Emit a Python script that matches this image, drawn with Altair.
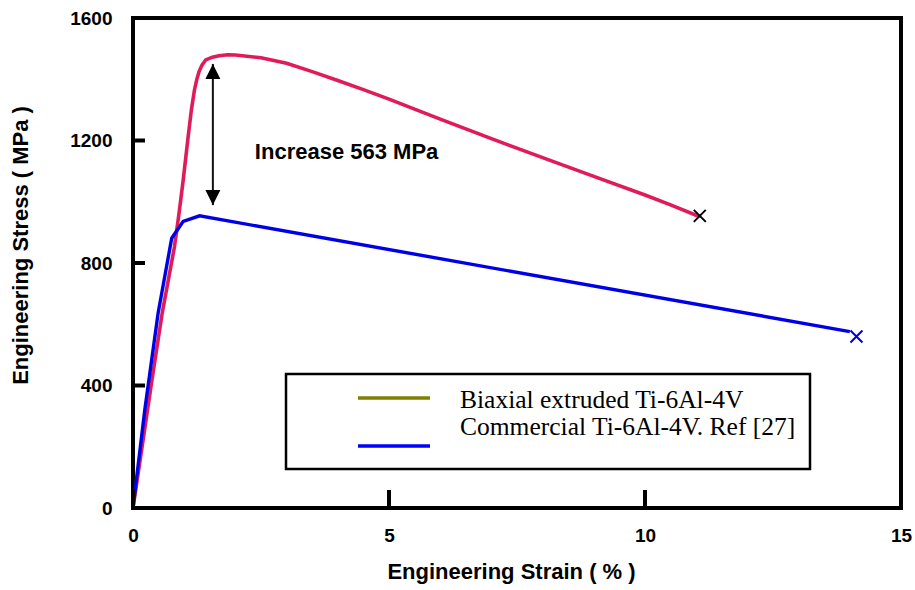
import altair as alt
import pandas as pd

# Biaxial extruded Ti-6Al-4V: engineering strain (%) and stress (MPa)
strain_biaxial = [0.0, 0.2, 0.37, 0.57, 0.81, 0.90, 0.98, 1.07, 1.14, 1.20, 1.25, 1.29, 1.35,
                  1.42, 1.55, 1.68, 1.85, 2.0, 2.5, 3.0, 3.5, 4.0, 4.5, 5.0, 6.0, 7.0, 8.0,
                  9.0, 10.0, 10.5, 11.07]
stress_biaxial = [0, 225, 418, 636, 853, 963, 1070, 1202, 1300, 1365, 1402, 1425, 1447,
                  1463, 1472, 1477, 1480, 1479, 1470, 1452, 1425, 1396, 1366, 1335, 1270,
                  1206, 1144, 1083, 1022, 990, 951]

# Commercial Ti-6Al-4V (Ref [27])
strain_commercial = [0.0, 0.23, 0.49, 0.756, 0.98, 1.30, 14.0]
stress_commercial = [0, 320, 636, 881, 936, 954, 576]

# fracture points
fracture_strain = [11.07, 14.13]
fracture_stress = [954, 560]
fracture_series = ["Biaxial", "Commercial"]

x_ticks = [0, 5, 10, 15]
y_ticks = [0, 400, 800, 1200, 1600]

# strength-increase annotation
arrow_strain = [1.56]
arrow_low = [989]
arrow_high = [1450]
note_strain = [2.38]
note_stress = [1138]
note_text = ["Increase 563 MPa"]

legend_labels = ["Biaxial extruded Ti-6Al-4V", "Commercial Ti-6Al-4V. Ref [27]"]
legend_colors = ["#808000", "#0000ff"]

RED = "#e01b5a"
BLUE = "#0000e6"
SANS = "Liberation Sans"
SERIF = "Liberation Serif"

biaxial = pd.DataFrame({"strain": strain_biaxial, "stress": stress_biaxial,
                        "i": range(len(strain_biaxial))})
commercial = pd.DataFrame({"strain": strain_commercial, "stress": stress_commercial,
                           "i": range(len(strain_commercial))})
fracture = pd.DataFrame({"strain": fracture_strain, "stress": fracture_stress,
                         "series": fracture_series})
arrow = pd.DataFrame({"strain": arrow_strain, "low": arrow_low, "high": arrow_high})
note = pd.DataFrame({"strain": note_strain, "stress": note_stress, "text": note_text})
xt = pd.DataFrame({"strain": x_ticks, "stress": [0] * len(x_ticks)})
yt = pd.DataFrame({"strain": [0] * len(y_ticks), "stress": y_ticks})

x_scale = alt.Scale(domain=[0, 15], nice=False, zero=False)
y_scale = alt.Scale(domain=[0, 1600], nice=False, zero=False)

x_axis = alt.Axis(values=x_ticks, format="d", title="Engineering Strain ( % )",
                  ticks=False, domain=False, grid=False, labelPadding=18, labelFlush=False,
                  titleX=378, titleY=70, titleAlign="center", titleBaseline="alphabetic")
y_axis = alt.Axis(values=y_ticks, format="d", title="Engineering Stress ( MPa )",
                  ticks=False, domain=False, grid=False, labelPadding=21, labelFlush=False,
                  titleAngle=270, titleX=-113, titleY=227, titleAlign="center",
                  titleBaseline="middle")

X = alt.X("strain:Q", scale=x_scale, axis=x_axis)
Y = alt.Y("stress:Q", scale=y_scale, axis=y_axis)
Xn = alt.X("strain:Q", scale=x_scale)
Yn = alt.Y("stress:Q", scale=y_scale)

line_bi = alt.Chart(biaxial).mark_line(color=RED, strokeWidth=3.6).encode(
    x=X, y=Y, order="i:Q")
line_com = alt.Chart(commercial).mark_line(color=BLUE, strokeWidth=3.4).encode(
    x=Xn, y=Yn, order="i:Q")

cross = "M-1,-1L1,1M1,-1L-1,1"
marks_x = alt.Chart(fracture).mark_point(shape=cross, filled=False, size=144,
                                         strokeWidth=2, opacity=1).encode(
    x=Xn, y=Yn,
    color=alt.Color("series:N", scale=alt.Scale(domain=fracture_series,
                                                range=["#000000", BLUE]), legend=None))

shaft = alt.Chart(arrow).mark_rule(color="#111111", strokeWidth=2).encode(
    x=Xn, y=alt.Y("low:Q", scale=y_scale), y2="high:Q")
head_up = alt.Chart(arrow).mark_point(shape="M0,0L-1,2L1,2Z", filled=True, size=225,
                                      color="#000000", opacity=1).encode(
    x=Xn, y=alt.Y("high:Q", scale=y_scale))
head_down = alt.Chart(arrow).mark_point(shape="M0,0L-1,-2L1,-2Z", filled=True, size=225,
                                        color="#000000", opacity=1).encode(
    x=Xn, y=alt.Y("low:Q", scale=y_scale))
note_mark = alt.Chart(note).mark_text(align="left", baseline="alphabetic", font=SANS,
                                      fontSize=22, fontWeight="bold", color="#000000").encode(
    x=Xn, y=Yn, text="text:N")

# inward tick marks
x_tick_marks = alt.Chart(xt).mark_tick(orient="vertical", size=18, thickness=4, opacity=1,
                                       yOffset=-9, color="#000000").encode(x=Xn, y=Yn)
y_tick_marks = alt.Chart(yt).mark_tick(orient="horizontal", size=12, thickness=4, opacity=1,
                                       xOffset=6, color="#000000").encode(x=Xn, y=Yn)

# legend box
one = alt.Data(values=[{"k": 0}])
legend_box = alt.Chart(one).mark_rect(fill="white", stroke="black", strokeWidth=2.5).encode(
    x=alt.value(153), x2=alt.value(677), y=alt.value(356), y2=alt.value(451))
legend_layers = [legend_box]
swatch_y = [380, 428]
text_y = [390, 417]
for lab, col, sy, ty in zip(legend_labels, legend_colors, swatch_y, text_y):
    legend_layers.append(
        alt.Chart(one).mark_rule(color=col, strokeWidth=3.3).encode(
            x=alt.value(225), x2=alt.value(297), y=alt.value(sy)))
    legend_layers.append(
        alt.Chart(one).mark_text(text=lab, align="left", baseline="alphabetic",
                                 font=SERIF, fontSize=25.5, color="#000000").encode(
            x=alt.value(327), y=alt.value(ty)))

chart = alt.layer(
    line_bi, line_com, marks_x, shaft, head_up, head_down, note_mark,
    x_tick_marks, y_tick_marks, *legend_layers
).properties(
    width=768, height=490,
    autosize=alt.AutoSizeParams(type="none"),
    padding={"left": 133, "top": 18, "right": 14, "bottom": 82},
).configure(
    background="white"
).configure_view(
    stroke="black", strokeWidth=4
).configure_axis(
    labelFont=SANS, labelFontSize=19, labelFontWeight="bold", labelColor="#000000",
    titleFont=SANS, titleFontSize=22, titleFontWeight="bold", titleColor="#000000",
)

chart.save("out.html", embed_options={"renderer": "svg", "actions": False})
